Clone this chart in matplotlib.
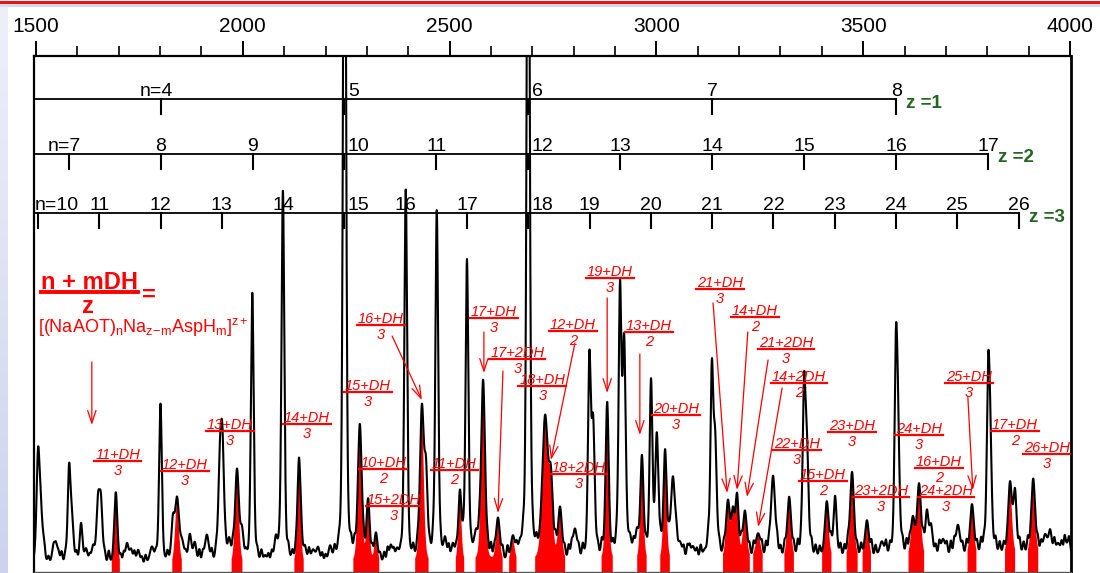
import numpy as np
import matplotlib
matplotlib.use("Agg")
import matplotlib.pyplot as plt

plt.rcParams['font.family'] = ['Liberation Sans', 'DejaVu Sans']
plt.rcParams['mathtext.fontset'] = 'custom'
plt.rcParams['mathtext.rm'] = 'Liberation Sans'
plt.rcParams['mathtext.it'] = 'Liberation Sans:italic'
plt.rcParams['mathtext.bf'] = 'Liberation Sans:bold'

# masses used for the cluster scales
M_NAAOT = 444.56
M_NA = 22.99

# black (unassigned) peaks: m/z, height, fwhm
black_mz = [1505, 1512, 1543, 1553, 1580, 1587, 1609, 1621, 1638, 1650, 1657,
            1720, 1730, 1747, 1780, 1801, 1831, 1853, 1872, 1884, 1913, 1945,
            1951, 1967, 1998, 2023, 2054, 2080, 2097, 2150, 2170, 2182, 2211,
            2246, 2358, 2373, 2394, 2443, 2469, 2489, 2508, 2542, 2564, 2670,
            2690, 2803, 2838, 2847, 2912, 2922, 2936, 2953, 2987, 3001, 3040,
            3057, 3088, 3117, 3134, 3142, 3282, 3357, 3364, 3432, 3545, 3579,
            3584, 3654, 3664, 3693, 3729, 3802, 3807, 3867, 3940, 3952, 3971,
            3993]
black_h = [100, 45, 20, 14, 92, 42, 40, 14, 16, 58, 58,
           20, 14, 14, 16, 160, 40, 20, 28, 20, 28, 95,
           98, 20, 28, 270, 6, 22, 372, 14, 12, 14, 14,
           900, 16, 10, 372, 80, 350, 20, 15, 300, 24, 10,
           900, 30, 195, 130, 262, 210, 16, 24, 175, 120, 80,
           14, 12, 6, 182, 110, 82, 162, 100, 60, 14, 180,
           110, 42, 28, 16, 30, 155, 100, 60, 18, 22, 10,
           10]
black_fwhm = [9, 12, 9, 9, 8, 9, 8, 9, 9, 9, 9,
              9, 9, 9, 12, 8, 9, 12, 9, 9, 12, 10,
              9, 9, 9, 8, 9, 9, 8, 9, 12, 9, 9,
              8, 9, 9, 8, 9, 8, 9, 9, 8, 12, 9,
              8, 12, 8, 9, 8, 9, 9, 9, 8, 9, 12,
              12, 12, 12, 8, 9, 12, 8, 9, 9, 12, 8,
              9, 9, 9, 12, 12, 8, 9, 9, 12, 9, 12,
              12]

# red (assigned, DH adduct) peaks: m/z, height, fwhm
red_mz = [1693, 1841, 1986, 2136, 2283, 2303, 2322, 2433, 2525, 2581, 2617,
          2653, 2731, 2745, 2767, 2881, 2965, 3021, 3173, 3185, 3195, 3214,
          3246, 3321, 3412, 3473, 3509, 3620, 3635, 3763, 3855, 3911]
red_h = [72, 62, 92, 104, 135, 60, 28, 150, 66, 180, 42,
         22, 140, 70, 50, 155, 100, 105, 55, 42, 60, 46,
         24, 60, 55, 85, 36, 36, 70, 50, 70, 75]
red_fwhm = [9, 11, 11, 9, 11, 9, 9, 11, 9, 11, 11,
            11, 16, 11, 11, 9, 9, 9, 11, 9, 9, 11,
            14, 11, 11, 11, 11, 11, 11, 11, 11, 11]

# low-level noise bumps along the baseline: m/z, height
noise_mz = [1520, 1530, 1562, 1571, 1598, 1630, 1666, 1676, 1705, 1712,
            1738, 1756, 1765, 1790, 1818, 1862, 1895, 1903, 1925, 1935,
            1958, 1976, 2008, 2035, 2045, 2062, 2070, 2088, 2110, 2120,
            2128, 2142, 2160, 2192, 2200, 2222, 2232, 2262, 2270, 2292,
            2313, 2332, 2342, 2350, 2365, 2382, 2412, 2422, 2452, 2460,
            2478, 2498, 2516, 2533, 2552, 2572, 2592, 2600, 2608, 2628,
            2640, 2662, 2678, 2700, 2710, 2756, 2778, 2788, 2795, 2812,
            2822, 2858, 2868, 2895, 2903, 2945, 2975, 3010, 3030, 3048,
            3066, 3075, 3080, 3098, 3107, 3125, 3152, 3163, 3205, 3225,
            3235, 3255, 3265, 3272, 3292, 3300, 3310, 3332, 3342, 3350,
            3375, 3385, 3395, 3422, 3445, 3455, 3463, 3485, 3495, 3520,
            3530, 3555, 3565, 3595, 3605, 3612, 3645, 3675, 3684, 3702,
            3712, 3720, 3740, 3750, 3775, 3785, 3792, 3820, 3830, 3840,
            3878, 3888, 3898, 3922, 3930, 3962, 3980, 3987, 3998, 1548]
noise_h = [8, 6, 10, 7, 9, 6, 8, 11, 7, 9,
           10, 6, 8, 7, 9, 6, 12, 8, 10, 7,
           9, 11, 6, 8, 10, 7, 9, 6, 10, 8,
           7, 9, 11, 8, 6, 10, 7, 9, 12, 8,
           10, 7, 9, 12, 8, 6, 10, 8, 7, 11,
           9, 12, 8, 10, 7, 11, 9, 13, 8, 10,
           12, 9, 11, 8, 10, 13, 9, 12, 10, 8,
           11, 9, 13, 10, 8, 12, 9, 11, 10, 13,
           9, 12, 10, 8, 11, 13, 10, 9, 12, 10,
           11, 9, 13, 10, 12, 9, 11, 10, 13, 9,
           12, 10, 9, 13, 11, 10, 12, 9, 11, 13,
           10, 12, 9, 11, 13, 10, 12, 9, 11, 10,
           13, 11, 9, 12, 10, 13, 11, 12, 10, 9,
           12, 10, 13, 11, 9, 12, 10, 13, 11, 8]
noise_fwhm = 5

baseline_mz = [1500, 2500, 3000, 3500, 4000]
baseline_lvl = [6, 8, 11, 14, 18]

# cluster scales
scale_z = [1, 2, 3]
scale_n = [list(range(4, 9)), list(range(7, 18)), list(range(10, 27))]
scale_y = [473, 418, 359]

# fraction labels: numerator, denominator, m/z, bar height
frac_num = ["11+DH", "12+DH", "13+DH", "14+DH", "15+DH", "16+DH", "10+DH",
            "15+2DH", "11+DH", "17+DH", "17+2DH", "12+DH", "18+DH", "19+DH",
            "13+DH", "20+DH", "18+2DH", "21+DH", "14+DH", "21+2DH", "14+2DH",
            "22+DH", "23+DH", "15+DH", "23+2DH", "24+DH", "16+DH", "24+2DH",
            "25+DH", "17+DH", "26+DH"]
frac_den = ["3", "3", "3", "3", "3", "3", "2", "3", "2", "3", "3", "2", "3",
            "3", "2", "3", "3", "3", "2", "3", "2", "3", "3", "2", "3", "3",
            "2", "3", "3", "2", "3"]
frac_mz = [1698, 1860, 1969, 2155, 2303, 2333, 2340, 2366, 2512, 2607, 2664,
           2798, 2724, 2888, 2982, 3047, 2813, 3153, 3238, 3313, 3345, 3340,
           3473, 3403, 3543, 3635, 3683, 3700, 3756, 3867, 3944]
frac_y = [111, 101, 141, 148, 180, 247, 103, 66, 102, 254, 213, 241, 186,
          294, 240, 157, 98, 283, 255, 223, 189, 122, 140, 91, 75, 137, 104,
          75, 189, 141, 118]

# arrows: (start m/z, start y, tip m/z, tip y)
arrows = [(1635, 210, 1635, 147), (2361, 236, 2433, 172), (2583, 240, 2583, 199),
          (2629, 201, 2617, 59), (2803, 229, 2745, 112), (2881, 274, 2881, 179),
          (2960, 218, 2960, 137), (3137, 269, 3171, 79), (3221, 240, 3195, 82),
          (3270, 212, 3219, 75), (3304, 184, 3246, 45), (3753, 175, 3765, 82)]


def pv(x, c, h, w):
    t = 2 * (x - c) / w
    return h * (0.65 * np.exp(-np.log(2) * t ** 2) + 0.35 / (1 + t ** 2))


x = np.linspace(1494, 4002.4, 14000)
base = np.interp(x, baseline_mz, baseline_lvl)
black = np.zeros_like(x)
for c, h, w in zip(black_mz, black_h, black_fwhm):
    black += pv(x, c, h, w)
for c, h in zip(noise_mz, noise_h):
    black += h * np.exp(-4 * np.log(2) * ((x - c) / noise_fwhm) ** 2)
red = np.zeros_like(x)
for c, h, w in zip(red_mz, red_h, red_fwhm):
    red += pv(x, c, h, w)
total = base + black + red

fig = plt.figure(figsize=(11, 5.73), dpi=100)
W, H = 1100, 573

# slide decoration
deco = fig.add_axes([0, 0, 8 / W, 1])
deco.imshow(np.linspace(0, 1, 100).reshape(-1, 1), aspect='auto',
            cmap=matplotlib.colors.LinearSegmentedColormap.from_list(
                'g', ['#eef0f9', '#cdd3ee']), extent=[0, 1, 0, 1])
deco.axis('off')
fig.add_artist(plt.Rectangle((0, 1 - 4 / H), 1, 3 / H, transform=fig.transFigure,
                             color='#ee1111', lw=0))
fig.add_artist(plt.Rectangle((0, 1 - 7 / H), 1, 3 / H, transform=fig.transFigure,
                             color='#d3d9f0', lw=0))

ax = fig.add_axes([33.5 / W, 1 / H, (1071 - 33.5) / W, 516 / H])
ax.set_xlim(1494, 4002.4)
ax.set_ylim(0, 516)

# red fill only over the body of each assigned peak
ax.fill_between(x, 0, base + red, where=red > 6, color='#ff0000', lw=0,
                zorder=2)
ax.plot(x, total, color='black', lw=1.5, zorder=3)

# axes styling
ax.xaxis.tick_top()
ax.set_xticks(np.arange(1500, 4001, 500))
ax.set_xticks(np.arange(1500, 4001, 100), minor=True)
ax.tick_params(axis='x', which='major', direction='out', length=11, width=1.4,
               labelsize=15, pad=3.5)
ax.tick_params(axis='x', which='minor', direction='out', length=7, width=1.2)
ax.set_yticks([])
ax.spines['top'].set_linewidth(1.6)
ax.spines['left'].set_linewidth(1.6)
ax.spines['right'].set_linewidth(2.0)
ax.spines['bottom'].set_linewidth(1.0)
ax.spines['bottom'].set_color('#555555')

px = (4002.4 - 1494) / (1071 - 33.5)  # m/z per pixel
huge = [m for m, h in zip(black_mz, black_h) if h > 800]

for z, ns, yl in zip(scale_z, scale_n, scale_y):
    mz = [(n * M_NAAOT + z * M_NA) / z for n in ns]
    ax.plot([1494, mz[-1]], [yl, yl], color='black', lw=1.3, zorder=4)
    for i, (n, m) in enumerate(zip(ns, mz)):
        ax.plot([m, m], [yl, yl - 15], color='black', lw=1.5, zorder=4)
        if i == 0:
            if m - 1494 < 20 * px:
                ax.text(1494 + 1.5 * px, yl + 3, f"n={n}", ha='left',
                        va='baseline', fontsize=14, zorder=5)
            else:
                ax.text(m - 4 * px, yl + 3, f"n={n}", ha='center',
                        va='baseline', fontsize=14, zorder=5)
        elif any(abs(m - hm) < 4 for hm in huge):
            ax.text(m + 3.5 * px, yl + 3, str(n), ha='left', va='baseline',
                    fontsize=14, zorder=5)
        else:
            ax.text(m, yl + 3, str(n), ha='center', va='baseline',
                    fontsize=14, zorder=5)
    ax.text(mz[-1] + 10 * px, yl - 4, f"z ={z}", ha='left', va='center',
            fontsize=13.5, fontweight='bold', color='#226622', zorder=5)

# formula
ax.text(1630, 283, "n + mDH", ha='center', va='baseline', fontsize=17,
        fontweight='bold', color='red')
ax.plot([1512, 1747], [280, 280], color='red', lw=2.8)
ax.text(1625, 277, "z", ha='center', va='top', fontsize=17,
        fontweight='bold', color='red')
ax.text(1772, 277, "=", ha='center', va='center', fontsize=17,
        fontweight='bold', color='red')
ax.text(1505, 244,
        r"[(NaAOT)$_\mathregular{n}$Na$_\mathregular{z\!-\!m}$AspH$_\mathregular{m}$]$^\mathregular{z+}$",
        ha='left', va='center', fontsize=13, color='red')

for x0, y0, x1, y1 in arrows:
    ax.annotate('', xy=(x1, y1), xytext=(x0, y0),
                arrowprops=dict(arrowstyle='->,head_length=0.9,head_width=0.3',
                                color='red', lw=0.9, shrinkA=0, shrinkB=0))

nums = []
for num, den, m, y in zip(frac_num, frac_den, frac_mz, frac_y):
    t = ax.text(m, y + 2, num, ha='center', va='baseline', fontsize=10.5,
                style='italic', color='red', zorder=6)
    ax.text(m, y - 3, den, ha='center', va='top', fontsize=10.5,
            style='italic', color='red', zorder=6)
    nums.append((t, y))

fig.canvas.draw()
inv = ax.transData.inverted()
for t, y in nums:
    bb = t.get_window_extent()
    (xa, _), (xb, _) = inv.transform([[bb.x0, bb.y0], [bb.x1, bb.y1]])
    ax.plot([xa - px, xb + px], [y, y], color='red', lw=1.6, zorder=6)

fig.savefig("out.png", dpi=100)
